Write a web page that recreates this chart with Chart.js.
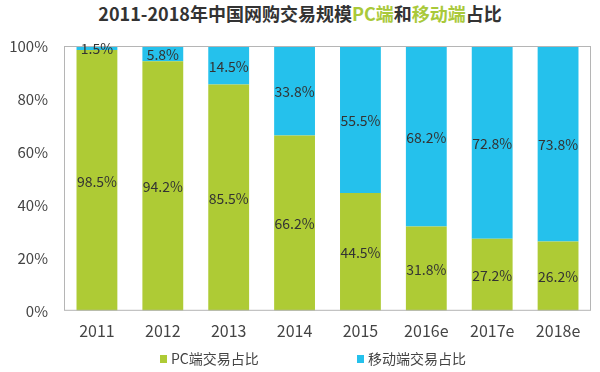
<!DOCTYPE html>
<html>
<head>
<meta charset="utf-8">
<script src="https://cdn.jsdelivr.net/npm/chart.js@4"></script>
<style>
  body { margin: 0; background: #fff; }
  #wrap { position: relative; width: 600px; height: 372px; }
  #title {
    position: absolute; top: 1px; left: 0; width: 600px; text-align: center;
    font: bold 18px "Noto Sans CJK SC", sans-serif; color: #333; line-height: 24px;
  }
  #title .g { color: #a9c93a; }
  canvas { position: absolute; top: 0; left: 0; }
</style>
</head>
<body>
<div id="wrap">
  <div id="title">2011-2018年中国网购交易规模<span class="g">PC端</span>和<span class="g">移动端</span>占比</div>
  <canvas id="shareChart" width="600" height="372"></canvas>
</div>
<script>
var years = ['2011', '2012', '2013', '2014', '2015', '2016e', '2017e', '2018e'];
var pcShare = [98.5, 94.2, 85.5, 66.2, 44.5, 31.8, 27.2, 26.2];
var mobileShare = [1.5, 5.8, 14.5, 33.8, 55.5, 68.2, 72.8, 73.8];
var yTicks = [0, 20, 40, 60, 80, 100];

var fontFamily = '"Noto Sans CJK SC", "Open Sans", sans-serif';
var legendX = [160, 357];

// frame around plot area, value labels in segment centres, spaced legend
var framePlugin = {
  id: 'frame',
  afterDatasetsDraw: function (chart) {
    var a = chart.chartArea, ctx = chart.ctx;
    ctx.save();
    ctx.strokeStyle = '#b5b5b5';
    ctx.lineWidth = 1;
    ctx.strokeRect(a.left + 0.5, a.top + 0.5, a.right - a.left - 1, a.bottom - a.top - 1);
    ctx.fillStyle = '#333';
    ctx.font = '14px ' + fontFamily;
    ctx.textAlign = 'center';
    ctx.textBaseline = 'middle';
    chart.data.datasets.forEach(function (ds, i) {
      chart.getDatasetMeta(i).data.forEach(function (bar, j) {
        var mid = (bar.y + bar.base) / 2;
        ctx.fillText(ds.data[j].toFixed(1) + '%', bar.x, mid + 1);
      });
    });
    // legend
    ctx.font = '14px ' + fontFamily;
    ctx.textAlign = 'left';
    chart.data.datasets.forEach(function (ds, i) {
      var x = legendX[i], y = 359;
      ctx.fillStyle = ds.backgroundColor;
      ctx.fillRect(x, y - 4, 7, 8);
      ctx.fillStyle = '#444';
      ctx.fillText(ds.label, x + 11, y);
    });
    ctx.restore();
  }
};

new Chart(document.getElementById('shareChart'), {
  type: 'bar',
  data: {
    labels: years,
    datasets: [{
      label: 'PC端交易占比',
      data: pcShare,
      backgroundColor: '#aecb35',
      categoryPercentage: 1,
      barPercentage: 0.62
    }, {
      label: '移动端交易占比',
      data: mobileShare,
      backgroundColor: '#25c1ec',
      categoryPercentage: 1,
      barPercentage: 0.62
    }]
  },
  options: {
    responsive: false,
    animation: false,
    layout: { padding: { top: 46, left: 8, right: 9, bottom: 28 } },
    plugins: {
      tooltip: { enabled: false },
      legend: { display: false }
    },
    scales: {
      x: {
        stacked: true,
        grid: { display: false },
        border: { display: false },
        ticks: { color: '#444', font: { size: 16, family: fontFamily }, padding: 3 }
      },
      y: {
        stacked: true,
        min: 0, max: 100,
        afterBuildTicks: function (scale) {
          scale.ticks = yTicks.map(function (v) { return { value: v }; });
        },
        afterFit: function (scale) { scale.width = 56; },
        grid: { display: false },
        border: { display: false },
        ticks: {
          color: '#444', padding: 8,
          font: { size: 15, family: fontFamily },
          callback: function (v) { return v + '%'; }
        }
      }
    }
  },
  plugins: [framePlugin]
});
</script>
</body>
</html>
